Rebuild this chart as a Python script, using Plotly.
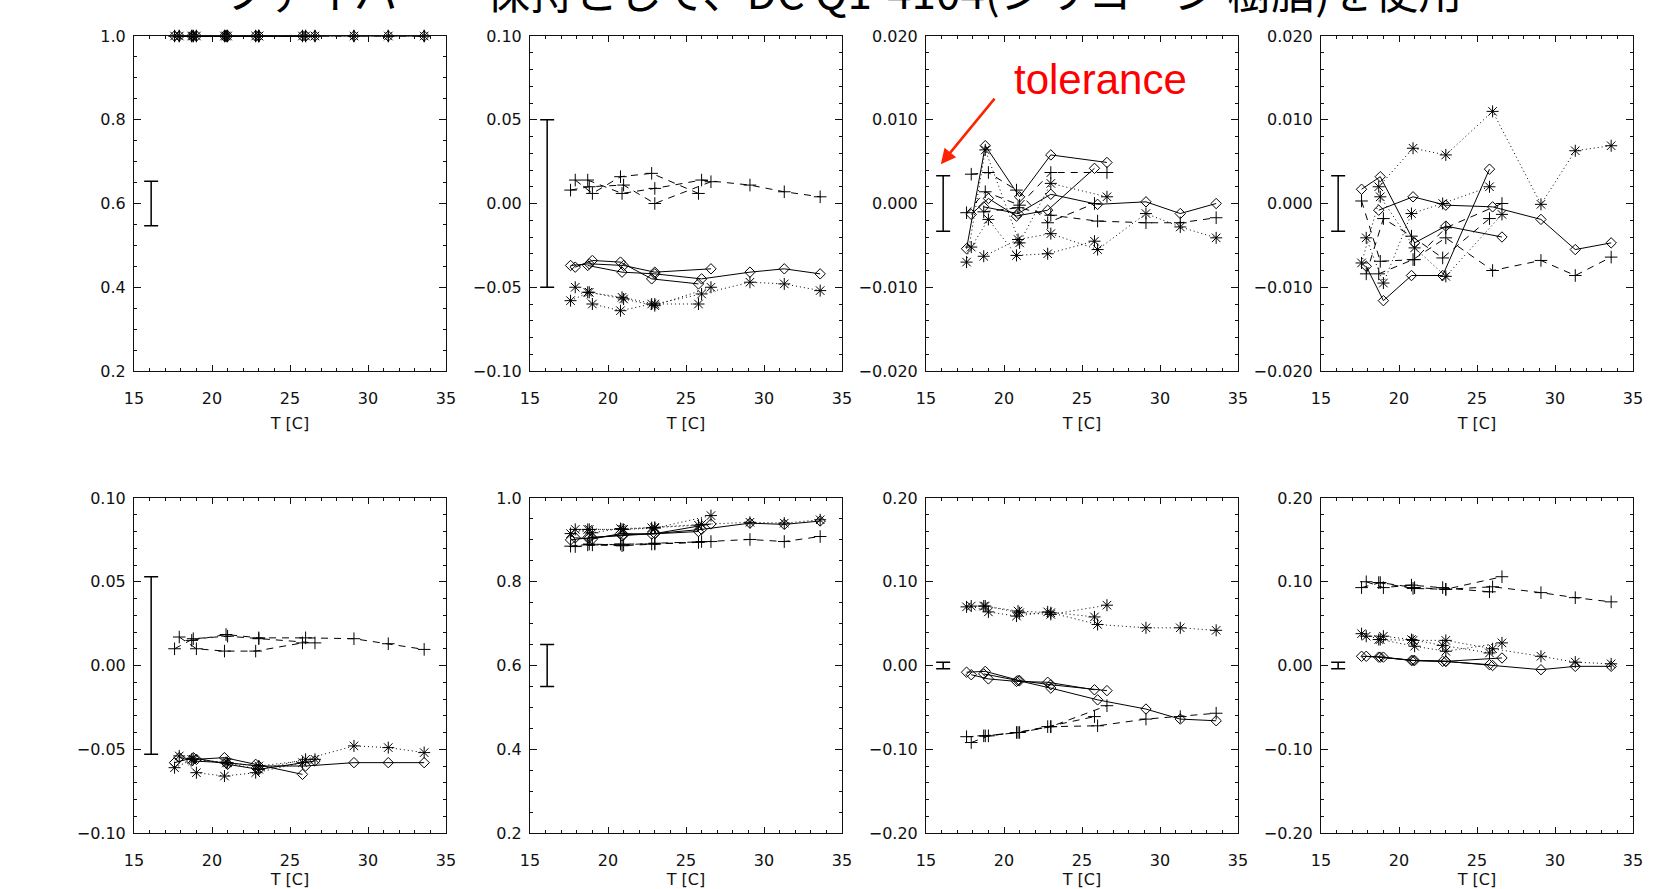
import plotly.graph_objects as go

# ---------------- data ----------------
TITLE = "ファイバー　保持として、DC Q1-4104(シリコーン 樹脂)を使用"

# temperature sets [C]
T_A = [17.6, 18.8, 21.0, 23.0, 26.6]
T_B = [17.9, 19.0, 20.8, 22.8, 25.8]
T_C = [18.7, 20.9, 23.0, 26.0, 29.1, 31.3, 33.6]

# panel 1
p1_diam = [[1.0, 1.0, 1.0, 1.0, 1.0], [1.0, 1.0, 1.0, 1.0, 1.0], [1.0, 1.0, 1.0, 1.0, 1.0, 1.0, 1.0]]
p1_plus = [[1.0, 1.0, 1.0, 1.0, 1.0], [1.0, 1.0, 1.0, 1.0, 1.0], [1.0, 1.0, 1.0, 1.0, 1.0, 1.0, 1.0]]
p1_star = [[1.0, 1.0, 1.0, 1.0, 1.0], [1.0, 1.0, 1.0, 1.0, 1.0], [1.0, 1.0, 1.0, 1.0, 1.0, 1.0, 1.0]]
# panel 2
p2_diam = [[-0.037, -0.036, -0.037, -0.041, -0.039], [-0.038, -0.034, -0.035, -0.045, -0.048],
           [-0.037, -0.041, -0.042, -0.045, -0.041, -0.039, -0.042]]
p2_plus = [[0.008, 0.010, 0.011, 0.000, 0.013], [0.014, 0.006, 0.016, 0.018, 0.006],
           [0.014, 0.006, 0.009, 0.014, 0.011, 0.007, 0.004]]
p2_star = [[-0.058, -0.053, -0.057, -0.061, -0.050], [-0.050, -0.060, -0.064, -0.060, -0.060],
           [-0.053, -0.056, -0.060, -0.054, -0.047, -0.048, -0.052]]
# panel 3
p3_diam = [[-0.0054, 0.0069, 0.0008, 0.0058, 0.0049], [-0.0013, 0.0006, -0.0015, -0.0008, 0.0042],
           [-0.0004, -0.0012, 0.0011, -0.0001, 0.0002, -0.0012, 0.0000]]
p3_plus = [[-0.0011, 0.0014, -0.0002, 0.0037, 0.0037], [0.0035, 0.0037, 0.0016, -0.0023, 0.0000],
           [-0.0010, -0.0005, -0.0014, -0.0021, -0.0023, -0.0023, -0.0017]]
p3_star = [[-0.0070, 0.0064, -0.0047, 0.0024, 0.0008], [-0.0052, -0.0019, -0.0062, -0.0060, -0.0045],
           [-0.0063, -0.0043, -0.0036, -0.0055, -0.0012, -0.0028, -0.0041]]
# panel 4
p4_diam = [[0.0017, 0.0032, -0.0047, -0.0027, -0.0040], [-0.0075, -0.0116, -0.0086, -0.0086, 0.0041],
           [-0.0008, 0.0008, -0.0002, -0.0004, -0.0019, -0.0055, -0.0047]]
p4_plus = [[0.0003, -0.0069, -0.0067, -0.0029, 0.0000], [-0.0084, -0.0018, -0.0039, -0.0065, -0.0018],
           [-0.0084, -0.0067, -0.0041, -0.0080, -0.0068, -0.0086, -0.0064]]
p4_star = [[-0.0071, 0.0008, -0.0053, -0.0087, -0.0013], [-0.0041, -0.0095, -0.0012, 0.0000, 0.0020],
           [0.0020, 0.0066, 0.0058, 0.0110, -0.0001, 0.0063, 0.0069]]
# panel 5
p5_diam = [[-0.058, -0.055, -0.059, -0.062, -0.057], [-0.055, -0.056, -0.055, -0.059, -0.065],
           [-0.057, -0.058, -0.060, -0.060, -0.058, -0.058, -0.058]]
p5_plus = [[0.010, 0.016, 0.0175, 0.016, 0.0135], [0.017, 0.010, 0.0086, 0.0086, 0.0135],
           [0.015, 0.0185, 0.0165, 0.0165, 0.016, 0.013, 0.0096]]
p5_star = [[-0.061, -0.056, -0.058, -0.060, -0.056], [-0.054, -0.064, -0.066, -0.064, -0.058],
           [-0.056, -0.058, -0.062, -0.056, -0.048, -0.049, -0.052]]
# panel 6
p6_diam = [[0.900, 0.905, 0.912, 0.915, 0.938], [0.905, 0.902, 0.915, 0.914, 0.920],
           [0.905, 0.910, 0.915, 0.925, 0.940, 0.937, 0.945]]
p6_plus = [[0.885, 0.890, 0.888, 0.892, 0.896], [0.884, 0.888, 0.890, 0.890, 0.894],
           [0.888, 0.886, 0.890, 0.896, 0.901, 0.896, 0.908]]
p6_star = [[0.915, 0.925, 0.925, 0.928, 0.958], [0.925, 0.917, 0.927, 0.929, 0.935],
           [0.925, 0.925, 0.930, 0.937, 0.942, 0.940, 0.948]]
# panel 7
p7_diam = [[-0.008, -0.007, -0.018, -0.023, -0.030], [-0.011, -0.016, -0.019, -0.020, -0.029],
           [-0.010, -0.018, -0.027, -0.041, -0.052, -0.064, -0.066]]
p7_plus = [[-0.085, -0.084, -0.080, -0.073, -0.048], [-0.092, -0.084, -0.080, -0.073, -0.061],
           [-0.084, -0.080, -0.073, -0.072, -0.064, -0.061, -0.057]]
p7_star = [[0.070, 0.071, 0.063, 0.061, 0.072], [0.071, 0.064, 0.059, 0.064, 0.058],
           [0.071, 0.065, 0.063, 0.049, 0.045, 0.045, 0.042]]
# panel 8
p8_diam = [[0.011, 0.010, 0.006, 0.005, 0.009], [0.011, 0.010, 0.006, 0.005, 0.001],
           [0.010, 0.006, 0.005, 0.000, -0.005, -0.001, -0.001]]
p8_plus = [[0.093, 0.099, 0.093, 0.091, 0.106], [0.100, 0.093, 0.096, 0.093, 0.088],
           [0.099, 0.092, 0.091, 0.094, 0.087, 0.081, 0.076]]
p8_star = [[0.038, 0.031, 0.023, 0.017, 0.027], [0.035, 0.035, 0.031, 0.024, 0.015],
           [0.031, 0.030, 0.030, 0.020, 0.011, 0.004, 0.002]]

# tolerance bars
tol_x = 16.1
tol_center = [0.6, 0.0, 0.0, 0.0, 0.0, 0.6, 0.0, 0.0]
tol_half = [0.053, 0.05, 0.0033, 0.0033, 0.053, 0.05, 0.004, 0.004]

# axes
y_ranges = [[0.2, 1.0], [-0.10, 0.10], [-0.020, 0.020], [-0.020, 0.020],
            [-0.10, 0.10], [0.2, 1.0], [-0.20, 0.20], [-0.20, 0.20]]
y_dtick = [0.2, 0.05, 0.01, 0.01, 0.05, 0.2, 0.1, 0.1]
y_minor = [0.05, 0.01, 0.002, 0.002, 0.01, 0.05, 0.02, 0.02]
y_fmt = [".1f", ".2f", ".3f", ".3f", ".2f", ".1f", ".2f", ".2f"]
x_range = [15, 35]
x_title = "T [C]"

panel_data = [(p1_diam, p1_plus, p1_star), (p2_diam, p2_plus, p2_star),
              (p3_diam, p3_plus, p3_star), (p4_diam, p4_plus, p4_star),
              (p5_diam, p5_plus, p5_star), (p6_diam, p6_plus, p6_star),
              (p7_diam, p7_plus, p7_star), (p8_diam, p8_plus, p8_star)]
temps = [T_A, T_B, T_C]

# ---------------- layout ----------------
W, H = 1669, 889
col_left = [134, 530, 926, 1321]
pw = 312
rows = [(36, 371), (498, 833)]

fig = go.Figure()
INK = "#111111"
tickfont = dict(family="DejaVu Sans", size=16, color=INK)

styles = [
    dict(symbol="diamond-open", size=8, dash="solid"),
    dict(symbol="cross-thin-open", size=9, dash="7px,6px"),
    dict(symbol="asterisk-open", size=10, dash="1px,3px"),
]

layout_axes = {}
for i in range(8):
    r, c = divmod(i, 4)
    xa = "x" if i == 0 else f"x{i+1}"
    ya = "y" if i == 0 else f"y{i+1}"
    x0 = col_left[c] / W
    x1 = (col_left[c] + pw) / W
    top, bot = rows[r]
    y0 = 1 - bot / H
    y1 = 1 - top / H
    common = dict(showline=True, linecolor=INK, linewidth=1, mirror="ticks",
                  ticks="inside", tickcolor=INK, showgrid=False, zeroline=False,
                  tickfont=tickfont, automargin=False)
    layout_axes["xaxis" if i == 0 else f"xaxis{i+1}"] = dict(
        domain=[x0, x1], anchor=ya, range=x_range, dtick=5, tick0=15, ticklen=6,
        minor=dict(dtick=1, ticks="inside", ticklen=3, tickcolor=INK, showgrid=False),
        ticklabelstandoff=13,
        title=dict(text=x_title, font=dict(family="DejaVu Sans", size=16, color=INK), standoff=10),
        **common)
    layout_axes["yaxis" if i == 0 else f"yaxis{i+1}"] = dict(
        domain=[y0, y1], anchor=xa, range=y_ranges[i], dtick=y_dtick[i], tick0=0,
        tickformat=y_fmt[i], ticklen=7,
        minor=dict(dtick=y_minor[i], ticks="inside", ticklen=3, tickcolor=INK, showgrid=False),
        ticklabelstandoff=4,
        **common)

    groups = panel_data[i]
    for g, st in zip(groups, styles):
        for ys, T in zip(g, temps):
            fig.add_trace(go.Scatter(
                x=T, y=ys, xaxis=xa, yaxis=ya, mode="lines+markers",
                line=dict(color="black", width=1, dash=st["dash"]),
                marker=dict(symbol=st["symbol"], size=st["size"], color="black",
                            line=dict(width=1, color="black")),
                cliponaxis=False, showlegend=False, hoverinfo="skip"))
    fig.add_trace(go.Scatter(
        x=[tol_x], y=[tol_center[i]], xaxis=xa, yaxis=ya, mode="markers",
        marker=dict(size=1, color="rgba(0,0,0,0)"),
        error_y=dict(type="data", array=[tol_half[i]], symmetric=True,
                     color="black", thickness=1.5, width=7),
        showlegend=False, hoverinfo="skip"))

annotations = [
    dict(text=TITLE, xref="paper", yref="paper", x=842 / W, y=1 + 10 / H,
         xanchor="center", yanchor="middle", showarrow=False,
         font=dict(family="Noto Sans CJK JP", size=44, color="black")),
    dict(text="tolerance", xref="paper", yref="paper", x=1100 / W, y=1 - 80 / H,
         xanchor="center", yanchor="middle", showarrow=False,
         font=dict(family="Liberation Sans", size=42, color="#ff0000")),
    dict(text="", xref="x3", yref="y3", x=15.95, y=0.0047,
         ax=55, ay=-67, axref="pixel", ayref="pixel", showarrow=True,
         arrowhead=2, arrowsize=1.2, arrowwidth=2.5, arrowcolor="#ff2200"),
]

fig.update_layout(width=W, height=H, margin=dict(l=0, r=0, t=0, b=0, autoexpand=False),
                  paper_bgcolor="white", plot_bgcolor="white",
                  annotations=annotations, **layout_axes)

fig.write_html("out.html", config={"displayModeBar": False},
               post_script="document.body.style.margin='0';document.body.style.overflow='hidden';")
